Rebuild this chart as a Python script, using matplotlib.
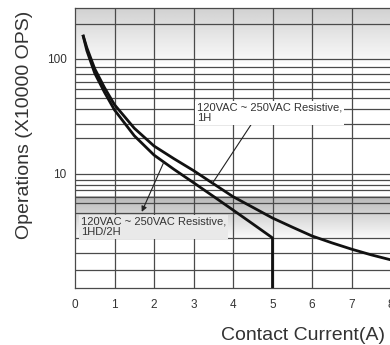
import matplotlib.pyplot as plt
import numpy as np
from matplotlib.ticker import NullLocator

plt.rcParams['font.family'] = ['Liberation Sans', 'DejaVu Sans']

# curve readings (current in A, operations x10000)
current_1h = [0.2, 0.3, 0.5, 0.75, 1, 1.5, 2, 2.5, 3, 3.5, 4, 4.5, 5, 5.5, 6, 6.5, 7, 7.5, 8]
ops_1h = [162, 125, 82, 56, 40, 25, 17.5, 13.6, 10.7, 8.24, 6.35, 5.13, 4.14, 3.45, 2.89, 2.52, 2.22, 1.98, 1.79]
current_2h = [0.2, 0.3, 0.5, 0.75, 1, 1.5, 2, 2.5, 3, 3.5, 4, 4.5, 5, 5]
ops_2h = [162, 118, 75, 51, 36, 21.5, 14.6, 11.0, 8.4, 6.4, 4.86, 3.68, 2.78, 1.0]

label_1h = '120VAC ~ 250VAC Resistive,\n1H'
label_2h = '120VAC ~ 250VAC Resistive,\n1HD/2H'

x_ticks = [0, 1, 2, 3, 4, 5, 6, 7, 8]
y_ticks = [10, 100]
# hand drawn chart grid, lines as they sit on the picture
grid_y = [200, 100, 85, 74, 63, 55, 46, 37, 27, 20.6, 10,
          8.9, 8.0, 7.3, 6.3, 5.6, 4.6, 2.8, 2.06, 1.46]
grid_x = [1, 2, 3, 4, 5, 6, 7]

fig = plt.figure(figsize=(3.9, 3.45), dpi=100)
ax = fig.add_axes([75 / 390, 57 / 345, 316 / 390, 280 / 345])
ax.set_yscale('log')
ax.set_xlim(0, 8)
ax.set_ylim(1.02, 277)

# grey shaded bands, darker at the top
def band(y0, y1, c_top, c_bot):
    g = np.linspace(c_top, c_bot, 100).reshape(-1, 1)
    ax.imshow(g, extent=[0, 1, y0, y1], transform=ax.transAxes, aspect='auto',
              cmap='gray', vmin=0, vmax=1, zorder=0, origin='upper')

band(0.80, 1.0, 0.82, 0.985)
band(0.17, 0.325, 0.72, 0.99)

for y in grid_y:
    ax.axhline(y, color='#4a4a4a', lw=0.9, zorder=1)
for x in grid_x:
    ax.axvline(x, color='#4a4a4a', lw=0.9, zorder=1)

ax.plot(current_1h, ops_1h, color='#111111', lw=2.0, zorder=3, solid_capstyle='butt')
ax.plot(current_2h, ops_2h, color='#111111', lw=2.0, zorder=3, solid_capstyle='butt')

arrow = dict(arrowstyle='-|>', lw=0.8, color='#222222', mutation_scale=8, shrinkA=0, shrinkB=0)
ax.annotate('', xy=(4.57, 30.7), xytext=(3.48, 8.3), arrowprops=arrow, zorder=4)
ax.annotate('', xy=(1.69, 4.68), xytext=(2.25, 12.7), arrowprops=arrow, zorder=4)

ax.text(3.08, 33.9, label_1h, fontsize=8, color='#333333', va='center', ha='left',
        linespacing=1.0, zorder=5,
        bbox=dict(boxstyle='square,pad=0.15', fc='white', ec='none'))
ax.text(0.15, 3.46, label_2h, fontsize=8, color='#333333', va='center', ha='left',
        linespacing=1.0, zorder=5,
        bbox=dict(boxstyle='square,pad=0.15', fc='#e9e9e9', ec='none'))

ax.set_xticks(x_ticks)
ax.set_xticklabels([str(v) for v in x_ticks])
ax.set_yticks(y_ticks)
ax.set_yticklabels([str(v) for v in y_ticks])
ax.yaxis.set_minor_locator(NullLocator())
ax.tick_params(axis='both', length=0, labelsize=8.5, colors='#333333')
ax.tick_params(axis='y', pad=6)
ax.tick_params(axis='x', pad=8)

for s in ['left', 'bottom', 'top']:
    ax.spines[s].set_color('#4a4a4a')
    ax.spines[s].set_linewidth(0.9)
ax.spines['right'].set_visible(False)

fig.text(25 / 390, 1 - 125 / 345, 'Operations (X10000 OPS)', rotation=90,
         ha='center', va='center', fontsize=14, color='#333333')
fig.text(385 / 390, 1 - 335 / 345, 'Contact Current(A)', ha='right', va='center',
         fontsize=14, color='#333333')

fig.savefig('out.png', dpi=100)
